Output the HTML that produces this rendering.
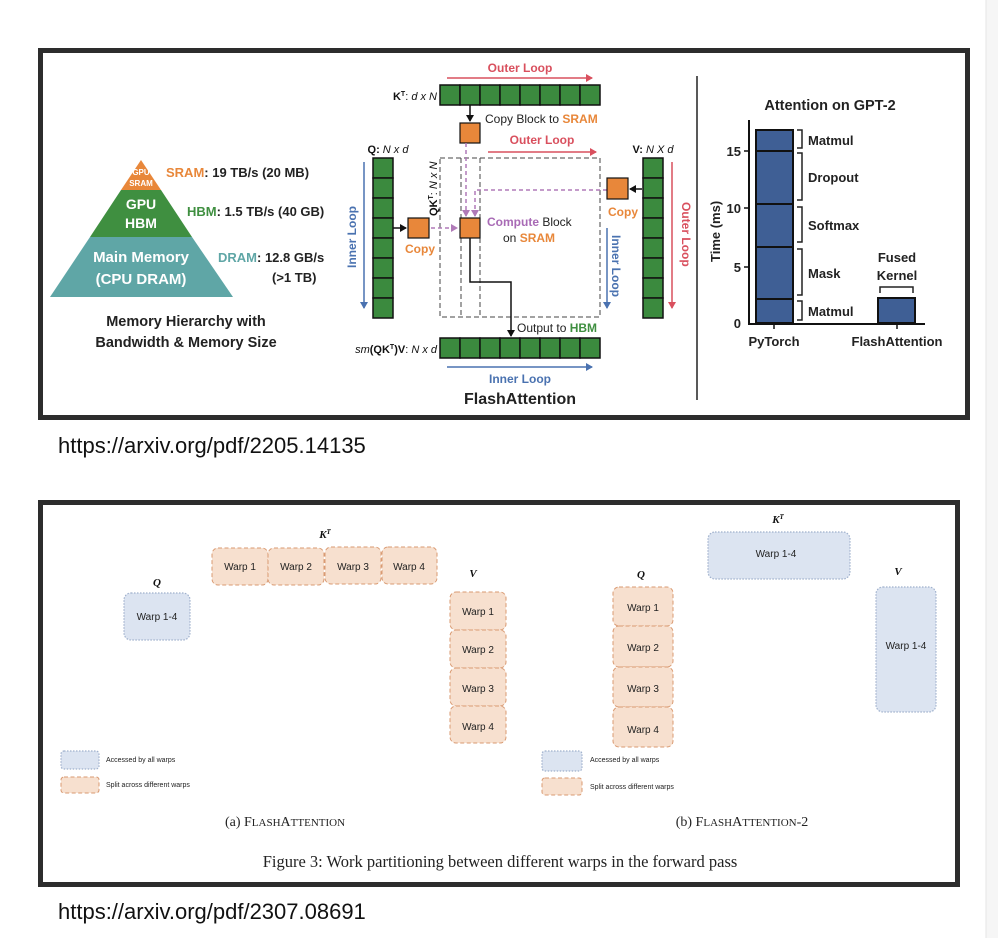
<!DOCTYPE html>
<html><head><meta charset="utf-8"><style>
html,body{margin:0;padding:0;background:#fff;}
svg{display:block;}
.b{font-weight:bold;}
.serif{font-family:"Liberation Serif",serif;}
</style></head><body>
<svg width="998" height="938" viewBox="0 0 998 938" xmlns="http://www.w3.org/2000/svg" font-family="Liberation Sans, sans-serif">
<defs>
<marker id="ak" markerWidth="8" markerHeight="8" refX="6" refY="4" orient="auto" markerUnits="userSpaceOnUse"><path d="M0,0 L7,4 L0,8 z" fill="#111"/></marker>
<marker id="ar" markerWidth="8" markerHeight="8" refX="6" refY="4" orient="auto" markerUnits="userSpaceOnUse"><path d="M0,0 L7,4 L0,8 z" fill="#d9505e"/></marker>
<marker id="ab" markerWidth="8" markerHeight="8" refX="6" refY="4" orient="auto" markerUnits="userSpaceOnUse"><path d="M0,0 L7,4 L0,8 z" fill="#4a72b0"/></marker>
<marker id="ap" markerWidth="8" markerHeight="8" refX="6" refY="4" orient="auto" markerUnits="userSpaceOnUse"><path d="M0,0 L7,4 L0,8 z" fill="#b07ab8"/></marker>
</defs>
<rect x="986" y="0" width="12" height="938" fill="#f6f6f6"/>
<line x1="986" y1="0" x2="986" y2="938" stroke="#e6e6e6"/>

<rect x="40.5" y="50.5" width="927" height="367" fill="#fff" stroke="#2d2d2d" stroke-width="5"/>

<polygon points="141,160 161,190 121,190" fill="#e8873a"/>
<polygon points="121,190 161,190 192,237 90,237" fill="#3f8f40"/>
<polygon points="90,237 192,237 233,297 50,297" fill="#5fa6a6"/>
<text x="141" y="175" font-size="8" fill="#fff" text-anchor="middle" class="b">GPU</text>
<text x="141" y="186" font-size="8" fill="#fff" text-anchor="middle" class="b">SRAM</text>
<text x="141" y="209" font-size="14" fill="#fff" text-anchor="middle" class="b">GPU</text>
<text x="141" y="228" font-size="14" fill="#fff" text-anchor="middle" class="b">HBM</text>
<text x="141" y="262" font-size="15" fill="#fff" text-anchor="middle" class="b">Main Memory</text>
<text x="141" y="284" font-size="15" fill="#fff" text-anchor="middle" class="b">(CPU DRAM)</text>
<text x="166" y="177" font-size="13" class="b"><tspan fill="#e8873a">SRAM</tspan><tspan fill="#222">: 19 TB/s (20 MB)</tspan></text>
<text x="187" y="216" font-size="13" class="b"><tspan fill="#3f8f40">HBM</tspan><tspan fill="#222">: 1.5 TB/s (40 GB)</tspan></text>
<text x="218" y="262" font-size="13" class="b"><tspan fill="#5fa6a6">DRAM</tspan><tspan fill="#222">: 12.8 GB/s</tspan></text>
<text x="272" y="282" font-size="13" class="b" fill="#222">(&gt;1 TB)</text>
<text x="186" y="326" font-size="14.5" class="b" fill="#222" text-anchor="middle">Memory Hierarchy with</text>
<text x="186" y="347" font-size="14.5" class="b" fill="#222" text-anchor="middle">Bandwidth &amp; Memory Size</text>

<text x="520" y="72" font-size="12" class="b" fill="#d9505e" text-anchor="middle">Outer Loop</text>
<line x1="447" y1="78" x2="592" y2="78" stroke="#d9505e" stroke-width="1.5" marker-end="url(#ar)"/>
<g fill="#3b8a3e" stroke="#111" stroke-width="1.5">
<rect x="440" y="85" width="20" height="20"/><rect x="460" y="85" width="20" height="20"/><rect x="480" y="85" width="20" height="20"/><rect x="500" y="85" width="20" height="20"/><rect x="520" y="85" width="20" height="20"/><rect x="540" y="85" width="20" height="20"/><rect x="560" y="85" width="20" height="20"/><rect x="580" y="85" width="20" height="20"/>
<rect x="440" y="338" width="20" height="20"/><rect x="460" y="338" width="20" height="20"/><rect x="480" y="338" width="20" height="20"/><rect x="500" y="338" width="20" height="20"/><rect x="520" y="338" width="20" height="20"/><rect x="540" y="338" width="20" height="20"/><rect x="560" y="338" width="20" height="20"/><rect x="580" y="338" width="20" height="20"/>
<rect x="373" y="158" width="20" height="20"/><rect x="373" y="178" width="20" height="20"/><rect x="373" y="198" width="20" height="20"/><rect x="373" y="218" width="20" height="20"/><rect x="373" y="238" width="20" height="20"/><rect x="373" y="258" width="20" height="20"/><rect x="373" y="278" width="20" height="20"/><rect x="373" y="298" width="20" height="20"/>
<rect x="643" y="158" width="20" height="20"/><rect x="643" y="178" width="20" height="20"/><rect x="643" y="198" width="20" height="20"/><rect x="643" y="218" width="20" height="20"/><rect x="643" y="238" width="20" height="20"/><rect x="643" y="258" width="20" height="20"/><rect x="643" y="278" width="20" height="20"/><rect x="643" y="298" width="20" height="20"/>
</g>
<text x="437" y="100" font-size="11" fill="#111" text-anchor="end"><tspan class="b">K</tspan><tspan font-size="7" dy="-4" class="b">T</tspan><tspan dy="4">: </tspan><tspan font-style="italic">d x N</tspan></text>
<line x1="470" y1="105" x2="470" y2="121" stroke="#111" stroke-width="1.5" marker-end="url(#ak)"/>
<rect x="460" y="123" width="20" height="20" fill="#e8873a" stroke="#111" stroke-width="1.2"/>
<text x="485" y="123" font-size="12" fill="#222">Copy Block to <tspan fill="#e8873a" class="b">SRAM</tspan></text>
<text x="542" y="144" font-size="12" class="b" fill="#d9505e" text-anchor="middle">Outer Loop</text>
<line x1="488" y1="152" x2="596" y2="152" stroke="#d9505e" stroke-width="1.5" marker-end="url(#ar)"/>
<rect x="440" y="158" width="160" height="159" fill="none" stroke="#444" stroke-width="1" stroke-dasharray="5,3"/>
<line x1="461" y1="158" x2="461" y2="317" stroke="#444" stroke-dasharray="5,3"/>
<line x1="480" y1="158" x2="480" y2="317" stroke="#444" stroke-dasharray="5,3"/>
<rect x="426" y="158" width="13" height="58" fill="#fff"/>
<text transform="translate(437,216) rotate(-90)" font-size="11" fill="#111"><tspan class="b">QK</tspan><tspan font-size="7" dy="-4" class="b">T</tspan><tspan dy="4">: </tspan><tspan font-style="italic">N x N</tspan></text>
<text x="388" y="153" font-size="11" fill="#111" text-anchor="middle"><tspan class="b">Q: </tspan><tspan font-style="italic">N x d</tspan></text>
<text transform="translate(356,268) rotate(-90)" font-size="12" class="b" fill="#4a72b0">Inner Loop</text>
<line x1="364" y1="162" x2="364" y2="308" stroke="#4a72b0" stroke-width="1.5" marker-end="url(#ab)"/>
<line x1="393" y1="228" x2="406" y2="228" stroke="#111" stroke-width="1.5" marker-end="url(#ak)"/>
<rect x="408" y="218" width="21" height="20" fill="#e8873a" stroke="#111" stroke-width="1.2"/>
<text x="420" y="253" font-size="12" class="b" fill="#e8873a" text-anchor="middle">Copy</text>
<line x1="431" y1="228" x2="457" y2="228" stroke="#b07ab8" stroke-width="1.5" stroke-dasharray="4,3" marker-end="url(#ap)"/>
<line x1="466" y1="143" x2="466" y2="216" stroke="#b07ab8" stroke-width="1.5" stroke-dasharray="4,3" marker-end="url(#ap)"/>
<polyline points="607,190 475,190 475,216" fill="none" stroke="#b07ab8" stroke-width="1.5" stroke-dasharray="4,3" marker-end="url(#ap)"/>
<rect x="460" y="218" width="20" height="20" fill="#e8873a" stroke="#111" stroke-width="1.2"/>
<text x="487" y="226" font-size="12" fill="#222"><tspan fill="#a86ab5" class="b">Compute</tspan> Block</text>
<text x="503" y="242" font-size="12" fill="#222">on <tspan fill="#e8873a" class="b">SRAM</tspan></text>
<polyline points="470,238 470,282 511,282 511,336" fill="none" stroke="#111" stroke-width="1.5" marker-end="url(#ak)"/>
<text x="517" y="332" font-size="12" fill="#222">Output to <tspan fill="#3f8f40" class="b">HBM</tspan></text>
<text x="653" y="153" font-size="11" fill="#111" text-anchor="middle"><tspan class="b">V: </tspan><tspan font-style="italic">N X d</tspan></text>
<line x1="642" y1="189" x2="630" y2="189" stroke="#111" stroke-width="1.5" marker-end="url(#ak)"/>
<rect x="607" y="178" width="21" height="21" fill="#e8873a" stroke="#111" stroke-width="1.2"/>
<text x="623" y="216" font-size="12" class="b" fill="#e8873a" text-anchor="middle">Copy</text>
<text transform="translate(612,235) rotate(90)" font-size="12" class="b" fill="#4a72b0">Inner Loop</text>
<line x1="607" y1="228" x2="607" y2="308" stroke="#4a72b0" stroke-width="1.5" marker-end="url(#ab)"/>
<text transform="translate(682,202) rotate(90)" font-size="12" class="b" fill="#d9505e">Outer Loop</text>
<line x1="672" y1="162" x2="672" y2="308" stroke="#d9505e" stroke-width="1.5" marker-end="url(#ar)"/>
<text x="437" y="353" font-size="11" fill="#111" text-anchor="end"><tspan font-style="italic">sm</tspan><tspan class="b">(QK</tspan><tspan font-size="7" dy="-4" class="b">T</tspan><tspan dy="4" class="b">)V</tspan><tspan>: </tspan><tspan font-style="italic">N x d</tspan></text>
<line x1="447" y1="367" x2="592" y2="367" stroke="#4a72b0" stroke-width="1.5" marker-end="url(#ab)"/>
<text x="520" y="383" font-size="12" class="b" fill="#4a72b0" text-anchor="middle">Inner Loop</text>
<text x="520" y="404" font-size="16" class="b" fill="#222" text-anchor="middle">FlashAttention</text>
<line x1="697" y1="76" x2="697" y2="400" stroke="#222" stroke-width="1.5"/>

<text x="830" y="110" font-size="14.5" class="b" fill="#222" text-anchor="middle">Attention on GPT-2</text>
<line x1="749" y1="120" x2="749" y2="325" stroke="#111" stroke-width="2"/>
<line x1="748" y1="324" x2="925" y2="324" stroke="#111" stroke-width="2"/>
<g font-size="13" class="b" fill="#222" text-anchor="end">
<text x="741" y="156">15</text><text x="741" y="213">10</text><text x="741" y="272">5</text><text x="741" y="328">0</text>
</g>
<g stroke="#111" stroke-width="1.5"><line x1="744" y1="151" x2="749" y2="151"/><line x1="744" y1="208" x2="749" y2="208"/><line x1="744" y1="267" x2="749" y2="267"/><line x1="774" y1="324" x2="774" y2="329"/><line x1="897" y1="324" x2="897" y2="329"/></g>
<text transform="translate(720,262) rotate(-90)" font-size="13" class="b" fill="#222">Time (ms)</text>
<rect x="756" y="130" width="37" height="193" fill="#3f5f95" stroke="#111" stroke-width="2"/>
<g stroke="#111" stroke-width="2"><line x1="756" y1="151" x2="793" y2="151"/><line x1="756" y1="204" x2="793" y2="204"/><line x1="756" y1="247" x2="793" y2="247"/><line x1="756" y1="299" x2="793" y2="299"/></g>
<g fill="none" stroke="#222" stroke-width="1.5">
<polyline points="797,130 802,130 802,148 797,148"/>
<polyline points="797,153 802,153 802,200 797,200"/>
<polyline points="797,207 802,207 802,242 797,242"/>
<polyline points="797,249 802,249 802,295 797,295"/>
<polyline points="797,301 802,301 802,320 797,320"/>
<polyline points="880,293 880,287 913,287 913,293"/>
</g>
<g font-size="13" class="b" fill="#222">
<text x="808" y="145">Matmul</text><text x="808" y="182">Dropout</text><text x="808" y="230">Softmax</text><text x="808" y="278">Mask</text><text x="808" y="316">Matmul</text>
</g>
<rect x="878" y="298" width="37" height="25" fill="#3f5f95" stroke="#111" stroke-width="2"/>
<text x="897" y="262" font-size="13" class="b" fill="#222" text-anchor="middle">Fused</text>
<text x="897" y="280" font-size="13" class="b" fill="#222" text-anchor="middle">Kernel</text>
<text x="774" y="346" font-size="13" class="b" fill="#222" text-anchor="middle">PyTorch</text>
<text x="897" y="346" font-size="13" class="b" fill="#222" text-anchor="middle">FlashAttention</text>

<text x="58" y="453" font-size="22" fill="#111">https://arxiv.org/pdf/2205.14135</text>

<rect x="40.5" y="502.5" width="917" height="382" fill="#fff" stroke="#2d2d2d" stroke-width="5"/>
<g class="serif" font-style="italic" font-weight="bold" font-size="11" fill="#111" text-anchor="middle">
<text x="325" y="538">K<tspan font-size="7" dy="-4">T</tspan></text>
<text x="157" y="586">Q</text>
<text x="473" y="577">V</text>
<text x="778" y="523">K<tspan font-size="7" dy="-4">T</tspan></text>
<text x="641" y="578">Q</text>
<text x="898" y="575">V</text>
</g>
<g fill="#f7e0cf" stroke="#d99a72" stroke-width="1" stroke-dasharray="4,2.5">
<rect x="212" y="548" width="56" height="37" rx="6"/><rect x="268" y="548" width="56" height="37" rx="6"/><rect x="325" y="547" width="56" height="37" rx="6"/><rect x="382" y="547" width="55" height="37" rx="6"/>
<rect x="450" y="592" width="56" height="38" rx="6"/><rect x="450" y="630" width="56" height="38" rx="6"/><rect x="450" y="668" width="56" height="38" rx="6"/><rect x="450" y="706" width="56" height="37" rx="6"/>
<rect x="61" y="777" width="38" height="16" rx="3"/>
<rect x="613" y="587" width="60" height="39" rx="6"/><rect x="613" y="626" width="60" height="41" rx="6"/><rect x="613" y="667" width="60" height="40" rx="6"/><rect x="613" y="707" width="60" height="40" rx="6"/>
<rect x="542" y="778" width="40" height="17" rx="3"/>
</g>
<g fill="#dce4f1" stroke="#9fb0cc" stroke-width="1.2" stroke-dasharray="1.5,1.5">
<rect x="124" y="593" width="66" height="47" rx="7"/>
<rect x="61" y="751" width="38" height="18" rx="3"/>
<rect x="708" y="532" width="142" height="47" rx="7"/>
<rect x="876" y="587" width="60" height="125" rx="7"/>
<rect x="542" y="751" width="40" height="20" rx="3"/>
</g>
<g font-size="10" fill="#222" text-anchor="middle">
<text x="240" y="570">Warp 1</text><text x="296" y="570">Warp 2</text><text x="353" y="570">Warp 3</text><text x="409" y="570">Warp 4</text>
<text x="478" y="615">Warp 1</text><text x="478" y="653">Warp 2</text><text x="478" y="692">Warp 3</text><text x="478" y="730">Warp 4</text>
<text x="157" y="620">Warp 1-4</text>
<text x="643" y="611">Warp 1</text><text x="643" y="651">Warp 2</text><text x="643" y="692">Warp 3</text><text x="643" y="733">Warp 4</text>
<text x="776" y="557">Warp 1-4</text>
<text x="906" y="649">Warp 1-4</text>
</g>
<g font-size="7" fill="#222">
<text x="106" y="762">Accessed by all warps</text><text x="106" y="787">Split across different warps</text>
<text x="590" y="762">Accessed by all warps</text><text x="590" y="789">Split across different warps</text>
</g>
<g class="serif" fill="#222" text-anchor="middle">
<text x="285" y="826" font-size="14">(a) F<tspan font-size="11">LASH</tspan>A<tspan font-size="11">TTENTION</tspan></text>
<text x="742" y="826" font-size="14">(b) F<tspan font-size="11">LASH</tspan>A<tspan font-size="11">TTENTION</tspan>-2</text>
<text x="500" y="867" font-size="16.5">Figure 3: Work partitioning between different warps in the forward pass</text>
</g>
<text x="58" y="919" font-size="22" fill="#111">https://arxiv.org/pdf/2307.08691</text>
</svg>
</body></html>
